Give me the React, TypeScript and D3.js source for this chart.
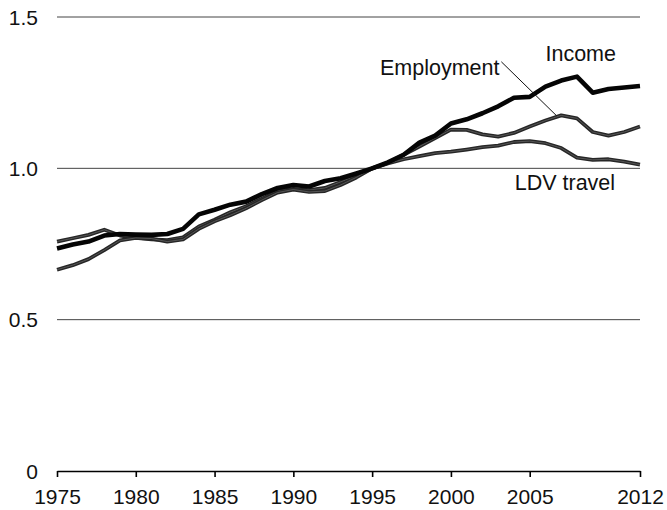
import { useEffect, useRef } from "react";
import * as d3 from "d3";

const YEARS = [
  1975, 1976, 1977, 1978, 1979, 1980, 1981, 1982, 1983, 1984, 1985, 1986, 1987,
  1988, 1989, 1990, 1991, 1992, 1993, 1994, 1995, 1996, 1997, 1998, 1999, 2000,
  2001, 2002, 2003, 2004, 2005, 2006, 2007, 2008, 2009, 2010, 2011, 2012,
];

// index, 1995 = 1.0
const INCOME = [
  0.735, 0.748, 0.758, 0.778, 0.783, 0.781, 0.78, 0.783, 0.8, 0.848, 0.863,
  0.88, 0.89, 0.915, 0.935, 0.945, 0.94, 0.958, 0.967, 0.983, 1.0, 1.02, 1.045,
  1.085, 1.108, 1.148, 1.162, 1.182, 1.205, 1.233, 1.236, 1.27, 1.29, 1.303,
  1.25, 1.262, 1.267, 1.272,
];

const EMPLOYMENT = [
  0.665, 0.68, 0.7, 0.73, 0.762, 0.77, 0.768, 0.758, 0.765, 0.8, 0.825, 0.845,
  0.868, 0.895, 0.92, 0.93, 0.922, 0.925, 0.945, 0.97, 1.0, 1.018, 1.045,
  1.072, 1.1, 1.128, 1.127, 1.112, 1.105, 1.117, 1.138, 1.158, 1.175, 1.165,
  1.12, 1.108, 1.12, 1.138,
];

const LDV_TRAVEL = [
  0.758, 0.769, 0.78, 0.797, 0.778, 0.77, 0.765, 0.763, 0.772, 0.808, 0.83,
  0.855, 0.875, 0.9, 0.925, 0.932, 0.928, 0.935, 0.955, 0.975, 1.0, 1.016,
  1.03, 1.04, 1.05, 1.055, 1.062, 1.07, 1.075, 1.087, 1.09, 1.083, 1.067,
  1.035, 1.028, 1.03, 1.022, 1.012,
];

const X_TICKS = [1975, 1980, 1985, 1990, 1995, 2000, 2005, 2012];
const Y_TICKS = [0, 0.5, 1.0, 1.5];

const FONT = "'Liberation Sans', Arial, sans-serif";

export default function App() {
  const svgRef = useRef<SVGSVGElement>(null);
  const width = 667;
  const height = 510;

  useEffect(() => {
    if (!svgRef.current) return;
    const svg = d3.select(svgRef.current);
    svg.selectAll("*").remove();

    const margin = { top: 17, right: 27, bottom: 39, left: 57 };
    const w = width - margin.left - margin.right;
    const h = height - margin.top - margin.bottom;

    const g = svg
      .append("g")
      .attr("transform", `translate(${margin.left},${margin.top})`);

    const x = d3.scaleLinear().domain([1975, 2012]).range([0, w]);
    const y = d3.scaleLinear().domain([0, 1.5]).range([h, 0]);

    // Grid lines
    Y_TICKS.filter((t) => t > 0).forEach((t) => {
      g.append("line")
        .attr("x1", 0)
        .attr("x2", w)
        .attr("y1", y(t))
        .attr("y2", y(t))
        .attr("stroke", "#444")
        .attr("stroke-width", 1);
    });

    // Y labels
    Y_TICKS.forEach((t) => {
      g.append("text")
        .attr("x", -19)
        .attr("y", y(t))
        .attr("dy", "0.36em")
        .attr("text-anchor", "end")
        .attr("font-family", FONT)
        .attr("font-size", "21px")
        .attr("fill", "#111")
        .text(t === 0 ? "0" : t.toFixed(1));
    });

    // X axis
    const xAxis = d3
      .axisBottom(x)
      .tickValues(X_TICKS)
      .tickFormat(d3.format("d"))
      .tickSize(6)
      .tickSizeOuter(0)
      .tickPadding(12);

    const ax = g.append("g").attr("transform", `translate(0,${h})`).call(xAxis);
    ax.select(".domain").attr("stroke", "#000").attr("stroke-width", 1.6);
    ax.selectAll(".tick line").attr("stroke", "#000").attr("stroke-width", 1.6);
    ax.selectAll("text")
      .attr("font-family", FONT)
      .attr("font-size", "21px")
      .attr("fill", "#111");

    const line = d3
      .line<number>()
      .x((_, i) => x(YEARS[i]))
      .y((d) => y(d))
      .curve(d3.curveLinear);

    const grey = (vals: number[]) => {
      g.append("path")
        .datum(vals)
        .attr("d", line)
        .attr("fill", "none")
        .attr("stroke", "#262626")
        .attr("stroke-width", 3.8)
        .attr("stroke-linejoin", "round");
      g.append("path")
        .datum(vals)
        .attr("d", line)
        .attr("fill", "none")
        .attr("stroke", "#8c8c8c")
        .attr("stroke-width", 0.8)
        .attr("stroke-opacity", 0.6)
        .attr("stroke-linejoin", "round");
    };

    grey(LDV_TRAVEL);
    grey(EMPLOYMENT);

    g.append("path")
      .datum(INCOME)
      .attr("d", line)
      .attr("fill", "none")
      .attr("stroke", "#050505")
      .attr("stroke-width", 4.6)
      .attr("stroke-linejoin", "round");

    // Labels
    const label = (text: string, yr: number, v: number) =>
      g
        .append("text")
        .attr("x", x(yr))
        .attr("y", y(v))
        .attr("font-family", FONT)
        .attr("font-size", "21.5px")
        .attr("fill", "#111")
        .text(text);

    label("Income", 2006, 1.355);
    label("Employment", 1995.5, 1.308);
    label("LDV travel", 2004.05, 0.928);

    // Leader line for Employment
    g.append("line")
      .attr("x1", x(2003.2))
      .attr("y1", y(1.352))
      .attr("x2", x(2006.7))
      .attr("y2", y(1.174))
      .attr("stroke", "#111")
      .attr("stroke-width", 1);
  }, []);

  return (
    <svg
      ref={svgRef}
      width={width}
      height={height}
      style={{ position: "absolute", left: 0, top: 0, background: "#fff" }}
    />
  );
}
